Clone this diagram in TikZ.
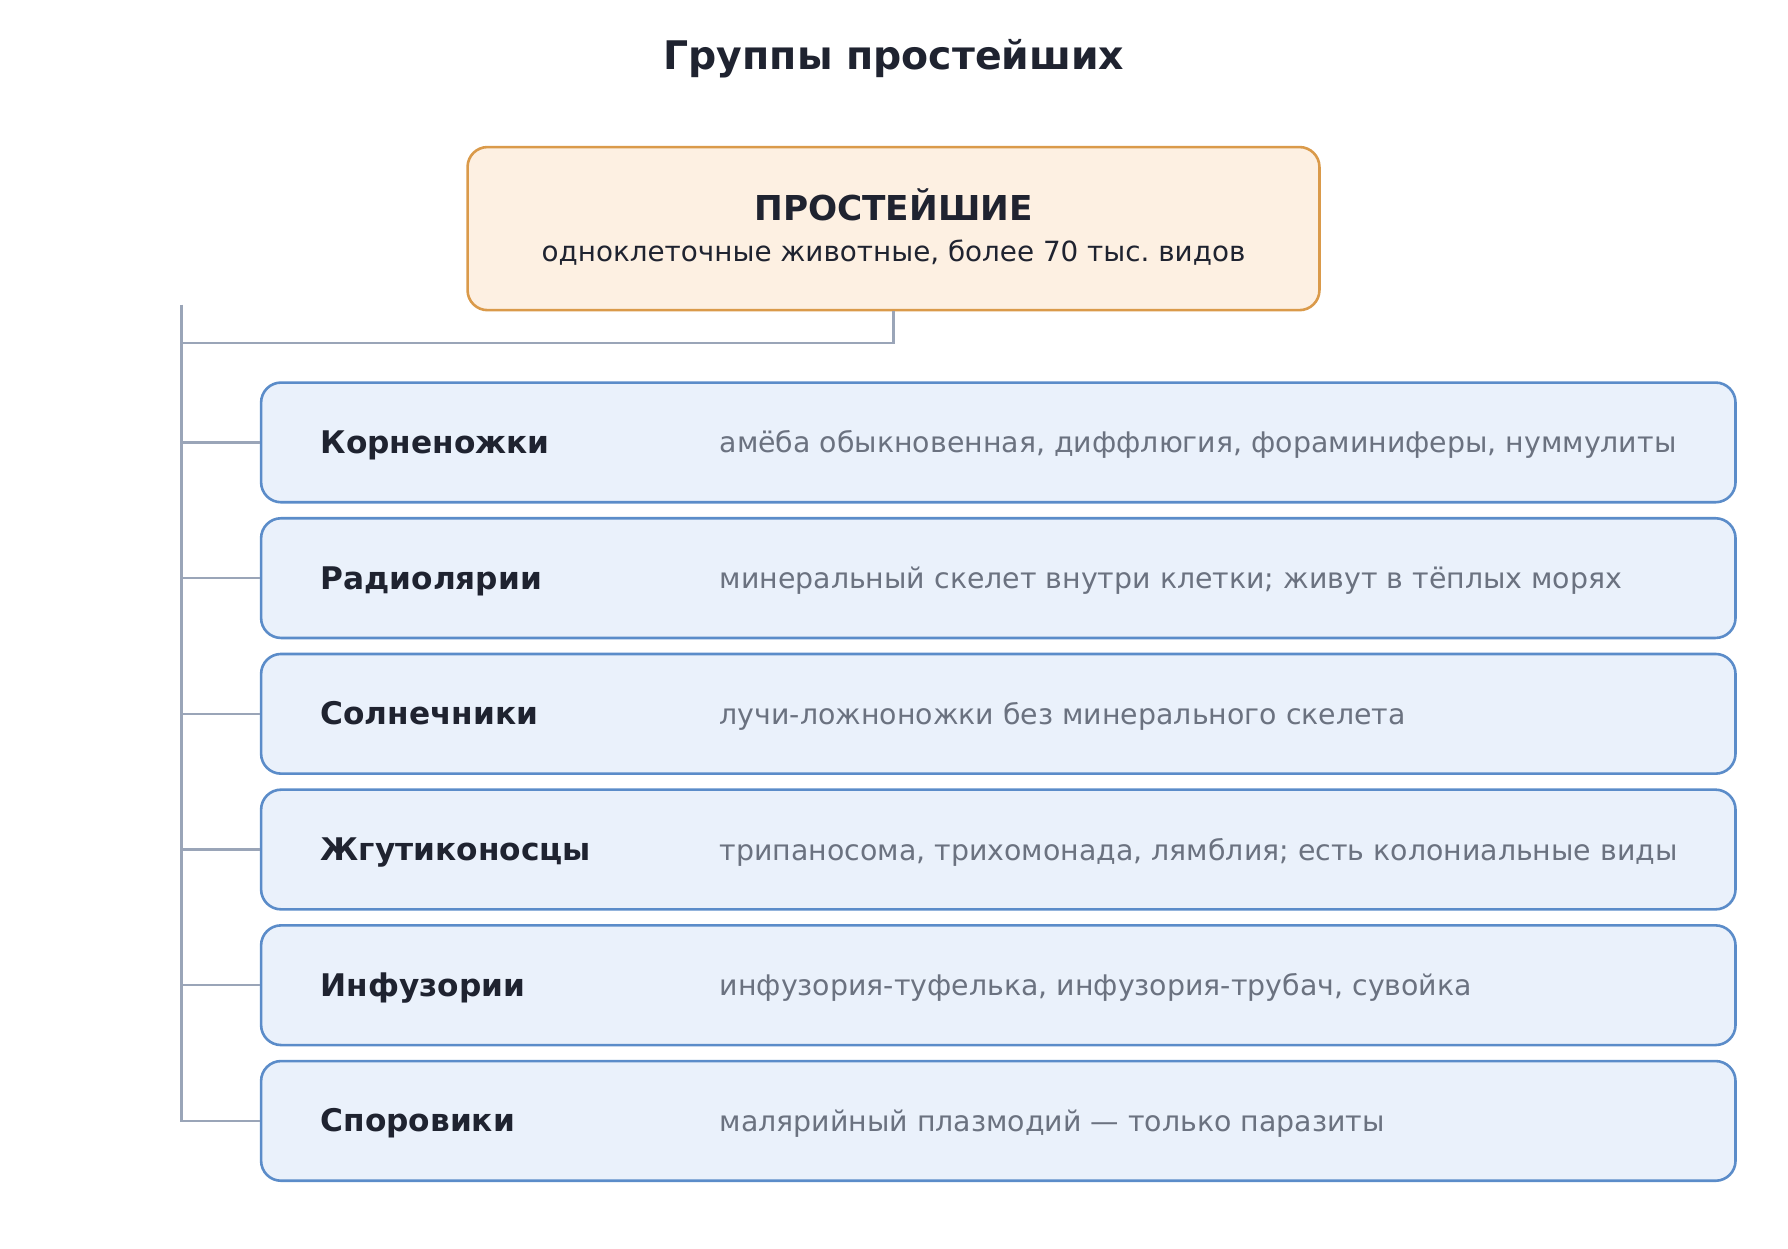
\documentclass[tikz,border=0pt]{standalone}
\usepackage{fontspec}
\setmainfont{DejaVu Sans}
\frenchspacing
\definecolor{ink}{HTML}{1F2330}
\definecolor{topfill}{HTML}{FDF0E2}
\definecolor{topdraw}{HTML}{DA9A4A}
\definecolor{rowfill}{HTML}{EAF1FB}
\definecolor{rowdraw}{HTML}{5B8CC9}
\definecolor{conncol}{HTML}{9AA5B8}
\definecolor{desccol}{HTML}{6B7280}
\begin{document}
\begin{tikzpicture}[x=1pt,y=-1pt,
  topbox/.style={draw=topdraw, fill=topfill, line width=2.6pt, rounded corners=20pt,
    minimum width=851.9pt, minimum height=163.1pt, inner sep=0pt},
  rowbox/.style={draw=rowdraw, fill=rowfill, line width=2.6pt, rounded corners=20pt,
    minimum width=1474.4pt, minimum height=119.7pt, inner sep=0pt},
  conn/.style={draw=conncol, line width=2.5pt},
  lab/.style={font=\fontsize{31.2}{36}\selectfont\bfseries, text=ink, inner sep=0pt, anchor=base west},
  desc/.style={font=\fontsize{28.4}{34}\selectfont, text=desccol, inner sep=0pt, anchor=base west},
]
\useasboundingbox (0,0) rectangle (1788,1248);
\node[font=\fontsize{39.4}{46}\selectfont\bfseries, text=ink, inner sep=0pt, anchor=base] (title) at (894,69) {Группы простейших};

\node[topbox] (top) at (893.5,228.6) {};
\node[font=\fontsize{34.3}{40}\selectfont\bfseries, text=ink, inner sep=0pt, anchor=base] (toph) at (893.5,220) {ПРОСТЕЙШИЕ};
\node[font=\fontsize{27.8}{32}\selectfont, text=ink, inner sep=0pt, anchor=base] (tops) at (893.5,261) {одноклеточные животные, более 70 тыс.\ видов};

\coordinate (sTop) at (181.3,304.5);
\coordinate (jn) at (181.3,343.2);

\foreach \i/\y/\l/\d in {
  1/442.4/Корненожки/{амёба обыкновенная, диффлюгия, фораминиферы, нуммулиты},
  2/578.1/Радиолярии/{минеральный скелет внутри клетки; живут в тёплых морях},
  3/713.8/Солнечники/{лучи-ложноножки без минерального скелета},
  4/849.5/Жгутиконосцы/{трипаносома, трихомонада, лямблия; есть колониальные виды},
  5/985.2/Инфузории/{инфузория-туфелька, инфузория-трубач, сувойка},
  6/1120.9/Споровики/{малярийный плазмодий — только паразиты}} {
  \node[rowbox] (r\i) at (998.3,\y) {};
  \node[lab] (l\i) at (320.4,\y+11) {\l};
  \node[desc] (d\i) at (719.5,\y+10.5) {\d};
}

\draw[conn] (top.south) |- (jn);
\draw[conn] (sTop) -- (sTop |- r6.west) -- (r6.west);
\foreach \i in {1,...,5} {
  \draw[conn] (sTop |- r\i.west) -- (r\i.west);
}
\end{tikzpicture}
\end{document}
